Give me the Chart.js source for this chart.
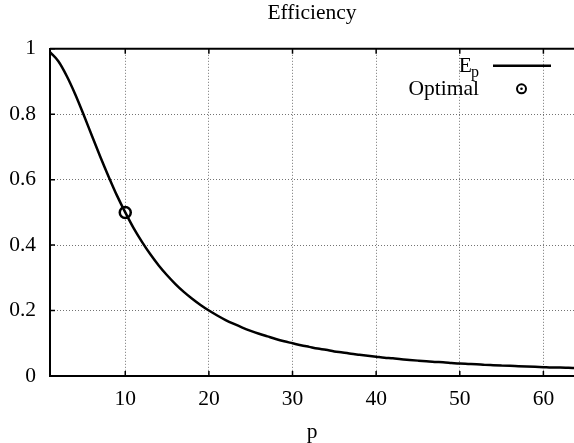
<!DOCTYPE html>
<html>
<head>
<meta charset="utf-8">
<script src="https://cdn.jsdelivr.net/npm/chart.js@4/dist/chart.umd.min.js"></script>
<style>
  html, body { margin: 0; padding: 0; background: #fff; }
</style>
</head>
<body>
<canvas id="grafico_eff" width="574" height="443"></canvas>
<script>
// values
const pValues = [1, 2, 3, 4, 5, 6, 7, 8, 9, 10, 11, 12, 13, 14, 15, 16, 17, 18, 19, 20,
  21, 22, 23, 24, 25, 26, 27, 28, 29, 30, 31, 32, 33, 34, 35, 36, 37, 38, 39, 40,
  41, 42, 43, 44, 45, 46, 47, 48, 49, 50, 51, 52, 53, 54, 55, 56, 57, 58, 59, 60,
  61, 62, 63, 64]
const efficiency = [0.990, 0.962, 0.917, 0.862, 0.800, 0.735, 0.671, 0.610, 0.552, 0.500,
  0.452, 0.410, 0.372, 0.338, 0.308, 0.281, 0.257, 0.236, 0.217, 0.200,
  0.185, 0.171, 0.159, 0.148, 0.138, 0.129, 0.121, 0.113, 0.106, 0.100,
  0.094, 0.089, 0.084, 0.080, 0.075, 0.072, 0.068, 0.065, 0.062, 0.059,
  0.056, 0.054, 0.051, 0.049, 0.047, 0.045, 0.043, 0.042, 0.040, 0.038,
  0.037, 0.036, 0.034, 0.033, 0.032, 0.031, 0.030, 0.029, 0.028, 0.027,
  0.026, 0.026, 0.025, 0.024]
const optimalP = [10]
const optimalE = [0.5]
const xTicks = [10, 20, 30, 40, 50, 60]
const yTicks = [0, 0.2, 0.4, 0.6, 0.8, 1]

const serif = "'Liberation Serif', 'Times New Roman', serif"
const fontSize = 21.5

// top border, inward tick marks and the gnuplot style key
const gnuplotFrame = {
  id: 'gnuplotFrame',
  afterDatasetsDraw(chart) {
    const ctx = chart.ctx
    const a = chart.chartArea
    const x = chart.scales.x, y = chart.scales.y
    ctx.save()
    ctx.strokeStyle = '#000'
    ctx.lineWidth = 2
    ctx.beginPath()
    ctx.moveTo(a.left, a.top)
    ctx.lineTo(a.right, a.top)
    ctx.stroke()

    ctx.lineWidth = 1.5
    ctx.beginPath()
    xTicks.forEach(v => {
      const px = x.getPixelForValue(v)
      ctx.moveTo(px, a.bottom); ctx.lineTo(px, a.bottom - 5)
      ctx.moveTo(px, a.top); ctx.lineTo(px, a.top + 5)
    })
    yTicks.forEach(v => {
      const py = y.getPixelForValue(v)
      ctx.moveTo(a.left, py); ctx.lineTo(a.left + 5, py)
    })
    ctx.stroke()

    // key
    const ds = chart.data.datasets
    const textRight = 479
    const row1 = a.top + 17, row2 = a.top + 40
    ctx.fillStyle = '#000'
    ctx.textBaseline = 'alphabetic'
    ctx.textAlign = 'right'
    ctx.font = '16px ' + serif
    const subW = ctx.measureText(ds[0].label.sub).width
    ctx.fillText(ds[0].label.sub, textRight, row1 + 11)
    ctx.font = fontSize + 'px ' + serif
    ctx.fillText(ds[0].label.main, textRight - subW + 1, row1 + 6)
    ctx.fillText(ds[1].label, textRight, row2 + 6)

    ctx.lineWidth = 2.5
    ctx.beginPath()
    ctx.moveTo(493, row1)
    ctx.lineTo(551, row1)
    ctx.stroke()

    ctx.lineWidth = 2
    ctx.beginPath()
    ctx.arc(521.5, row2, 4.5, 0, Math.PI * 2)
    ctx.stroke()
    ctx.beginPath()
    ctx.arc(521.5, row2, 1.3, 0, Math.PI * 2)
    ctx.fill()
    ctx.restore()
  }
}

const ctx = document.getElementById('grafico_eff').getContext('2d')

const chartGraph = new Chart(ctx, {
  type: 'line',
  data: {
    datasets: [{
      label: { main: 'E', sub: 'p', toString() { return 'Ep' } },
      data: pValues.map((p, i) => ({ x: p, y: efficiency[i] })),
      borderColor: '#000',
      borderWidth: 2.5,
      pointRadius: 0,
      cubicInterpolationMode: 'monotone',
      fill: false
    }, {
      label: 'Optimal',
      data: optimalP.map((p, i) => ({ x: p, y: optimalE[i] })),
      showLine: false,
      pointStyle: 'circle',
      pointRadius: 5.5,
      pointBorderWidth: 2.5,
      pointBorderColor: '#000',
      pointBackgroundColor: 'transparent'
    }]
  },
  options: {
    responsive: false,
    animation: false,
    devicePixelRatio: 1,
    layout: { padding: 0, autoPadding: false },
    plugins: {
      legend: { display: false },
      tooltip: { enabled: false },
      title: {
        display: true,
        text: 'Efficiency',
        fullSize: false,
        color: '#000',
        font: { family: serif, size: fontSize, weight: 'normal', lineHeight: 1.2 },
        padding: { top: 0, bottom: 23 }
      }
    },
    scales: {
      x: {
        type: 'linear',
        min: 1,
        max: 63.66,
        afterBuildTicks: s => { s.ticks = xTicks.map(v => ({ value: v })) },
        afterFit: s => { s.height = 67; s.paddingLeft = 0; s.paddingRight = 0 },
        grid: { color: 'rgba(0,0,0,0.55)', lineWidth: 1, drawTicks: false },
        border: { display: true, color: '#000', width: 2, dash: [1, 2] },
        ticks: {
          color: '#000',
          padding: 10,
          maxRotation: 0,
          font: { family: serif, size: fontSize, lineHeight: 1.2 }
        },
        title: {
          display: true,
          text: 'p',
          color: '#000',
          font: { family: serif, size: fontSize, lineHeight: 1 },
          padding: { top: 0, bottom: 0 }
        }
      },
      y: {
        min: 0,
        max: 1,
        afterBuildTicks: s => { s.ticks = yTicks.map(v => ({ value: v })) },
        afterFit: s => { s.width = 50; s.paddingTop = 0; s.paddingBottom = 0 },
        grid: { color: 'rgba(0,0,0,0.55)', lineWidth: 1, drawTicks: false },
        border: { display: true, color: '#000', width: 2, dash: [1, 2] },
        ticks: {
          color: '#000',
          padding: 14,
          font: { family: serif, size: fontSize, lineHeight: 1.2 },
          callback: v => String(+v.toFixed(1))
        }
      }
    }
  },
  plugins: [gnuplotFrame]
})
</script>
</body>
</html>
